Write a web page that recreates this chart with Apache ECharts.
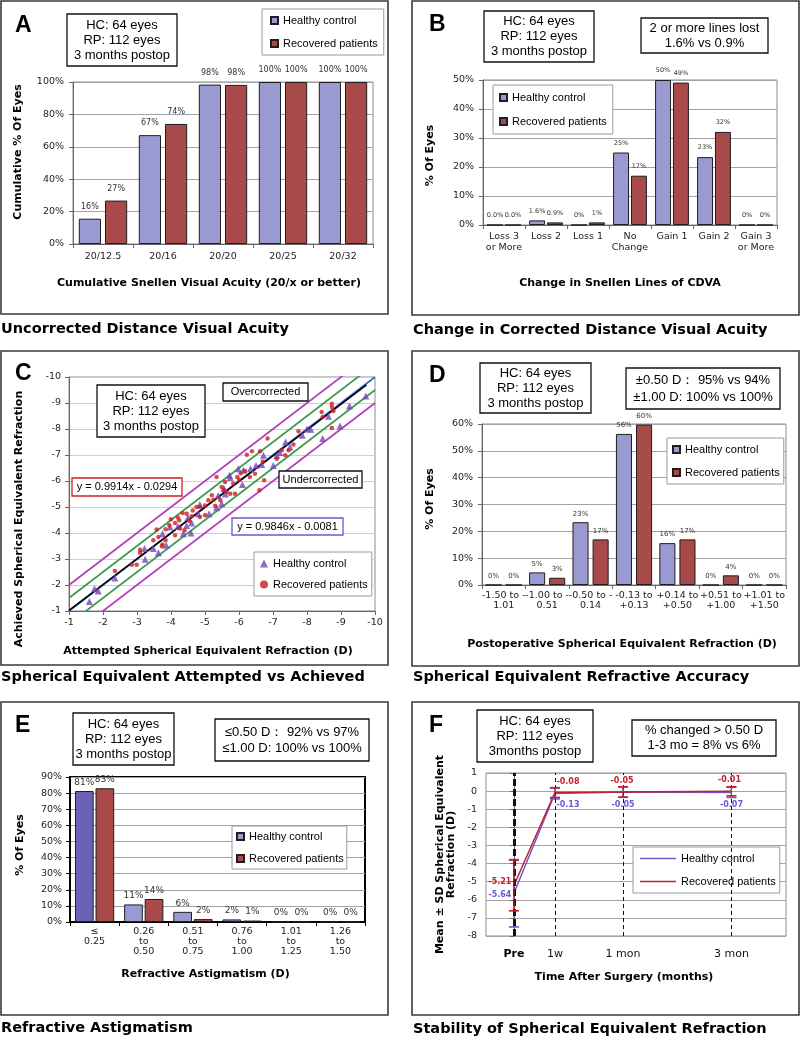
<!DOCTYPE html>
<html><head><meta charset="utf-8">
<script src="https://cdn.jsdelivr.net/npm/echarts@6/dist/echarts.min.js"></script>
<style>html,body{margin:0;padding:0;background:#fff;width:800px;height:1039px;overflow:hidden;position:relative}</style>
</head><body>
<script>
// ---------------- DATA ----------------
const seriesNames = ['Healthy control', 'Recovered patients'];

// A: Uncorrected distance visual acuity (cumulative %)
const catsA = ['20/12.5', '20/16', '20/20', '20/25', '20/32'];
const hcA = [15.6, 67.2, 98.4, 100, 100];
const rpA = [26.8, 74.1, 98.2, 100, 100];

// B: Change in CDVA (%)
const catsB = ['Loss 3\nor More', 'Loss 2', 'Loss 1', 'No\nChange', 'Gain 1', 'Gain 2', 'Gain 3\nor More'];
const hcB = [0, 1.6, 0, 25.0, 50.0, 23.4, 0];
const rpB = [0, 0.9, 0.9, 17.0, 49.1, 32.1, 0];
const hcBLabels = ['0.0%', '1.6%', '0%', '25%', '50%', '23%', '0%'];
const rpBLabels = ['0.0%', '0.9%', '1%', '17%', '49%', '32%', '0%'];

// C: Attempted vs achieved SE (D): [attempted, achieved]
const hcC = [[-1.60,-1.37],[-1.75,-1.86],[-1.86,-1.77],[-2.35,-2.27],[-3.24,-2.99],[-3.22,-3.40],[-3.48,-3.40],[-3.63,-3.24],[-3.75,-3.97],[-3.86,-3.53],[-3.97,-4.23],[-4.36,-3.97],[-4.46,-4.29],[-4.61,-4.38],[-4.59,-4.00],[-4.80,-4.74],[-4.85,-5.10],[-5.12,-4.74],[-5.34,-4.97],[-5.39,-5.44],[-5.49,-5.13],[-5.56,-5.71],[-5.72,-6.22],[-5.74,-6.13],[-5.98,-6.47],[-6.13,-6.41],[-6.10,-5.87],[-6.34,-6.47],[-6.72,-6.99],[-6.67,-6.63],[-7.01,-6.60],[-7.11,-6.99],[-7.37,-7.50],[-7.50,-7.31],[-7.86,-7.76],[-8.11,-7.99],[-8.46,-7.63],[-8.63,-8.49],[-8.97,-8.12],[-9.25,-8.88],[-9.73,-9.27],[-4.20,-4.25],[-4.50,-4.60],[-5.60,-5.50],[-6.50,-6.60],[-7.20,-7.10],[-8.00,-8.00]];
const rpC = [[-2.35,-2.54],[-2.85,-2.78],[-2.99,-2.78],[-3.09,-3.36],[-3.09,-3.24],[-3.48,-3.72],[-3.58,-4.13],[-3.63,-3.85],[-3.75,-3.56],[-3.84,-4.14],[-3.84,-3.72],[-3.73,-3.49],[-4.00,-4.53],[-4.12,-4.38],[-4.12,-3.91],[-4.24,-4.49],[-4.27,-4.17],[-4.34,-4.77],[-4.46,-4.74],[-4.61,-4.64],[-4.64,-4.87],[-4.75,-5.00],[-4.85,-5.00],[-4.85,-4.62],[-5.00,-4.68],[-5.00,-5.06],[-5.10,-5.26],[-5.25,-5.28],[-5.45,-5.26],[-5.49,-5.77],[-5.64,-5.58],[-5.74,-5.51],[-5.88,-5.51],[-5.34,-6.15],[-5.59,-5.96],[-5.83,-5.90],[-6.00,-6.05],[-6.18,-6.38],[-6.32,-6.15],[-6.47,-6.28],[-6.23,-7.01],[-6.38,-7.14],[-6.62,-7.14],[-6.60,-5.64],[-6.74,-6.03],[-6.84,-7.63],[-7.11,-6.86],[-7.26,-7.18],[-7.36,-6.99],[-7.46,-7.18],[-7.60,-7.40],[-7.75,-7.91],[-8.43,-8.65],[-8.46,-8.46],[-8.73,-8.97],[-8.73,-8.85],[-8.73,-8.04],[-8.78,-8.69],[-4.40,-4.10],[-4.55,-4.45],[-3.95,-4.30],[-5.20,-5.45],[-5.55,-5.65],[-6.70,-6.75],[-5.30,-5.05],[-4.20,-4.60],[-6.05,-6.30],[-5.95,-6.15]];
const boundOffsets = [-1, -0.5, 0.5, 1];
const trendRP = { slope: 0.9914, intercept: -0.0294, from: -1, to: -9.75 };

// D: Postoperative SE accuracy (%)
const catsD = ['-1.50 to -\n1.01', '-1.00 to -\n0.51', '-0.50 to -\n0.14', '-0.13 to\n+0.13', '+0.14 to\n+0.50', '+0.51 to\n+1.00', '+1.01 to\n+1.50'];
const hcD = [0, 4.7, 23.4, 56.3, 15.6, 0, 0];
const rpD = [0, 2.7, 17.0, 59.8, 17.0, 3.6, 0];

// E: Refractive astigmatism (%)
const catsE = ['\u2264\n0.25', '0.26\nto\n0.50', '0.51\nto\n0.75', '0.76\nto\n1.00', '1.01\nto\n1.25', '1.26\nto\n1.50'];
const hcE = [81.3, 10.9, 6.3, 1.6, 0, 0];
const rpE = [83.0, 14.3, 1.8, 0.9, 0, 0];

// F: Stability of SE (mean +/- SD, D)
const timeNames = ['Pre', '1w', '1 mon', '3 mon'];
const timeVals = [0, 1, 2.66, 5.3];
const hcF = [-5.64, -0.13, -0.05, -0.07];
const rpF = [-5.21, -0.08, -0.05, -0.01];
const hcFsd = [1.86, 0.30, 0.28, 0.28];
const rpFsd = [1.40, 0.27, 0.29, 0.25];

// ---------------- STYLE HELPERS ----------------
const FA = 'DejaVu Sans', FT = 'Liberation Sans';
const HC_COL = '#9a9ad2', RP_COL = '#a84a4a', HC_DARK = '#6a62b6';
const GRIDC = '#a3a3a3';

function initChart(x, y, w, h) {
  const d = document.createElement('div');
  d.style.cssText = 'position:absolute;left:' + x + 'px;top:' + y + 'px;width:' + w + 'px;height:' + h + 'px';
  document.body.appendChild(d);
  return echarts.init(d, null, { renderer: 'canvas' });
}

function frame(ox, oy, p) {
  const g = [];
  g.push({ type: 'rect', silent: true, z: 0, shape: { x: p.frame[0] - ox, y: p.frame[1] - oy, width: p.frame[2] - p.frame[0], height: p.frame[3] - p.frame[1] }, style: { fill: null, stroke: '#3a3a3a', lineWidth: 1.6 } });
  g.push({ type: 'text', z: 100, x: p.letter[1] - ox, y: p.letter[2] - oy, style: { text: p.letter[0], font: 'bold 23px "Liberation Sans"', fill: '#000', verticalAlign: 'middle' } });
  g.push({ type: 'text', z: 100, x: p.caption[1] - ox, y: p.caption[2] - oy, style: { text: p.caption[0], font: 'bold 14.5px "DejaVu Sans"', fill: '#000', verticalAlign: 'middle' } });
  (p.boxes || []).forEach(function (b) {
    g.push({ type: 'rect', z: 100, shape: { x: b.r[0] - ox, y: b.r[1] - oy, width: b.r[2] - b.r[0], height: b.r[3] - b.r[1] }, style: { fill: '#fff', stroke: b.stroke || '#111', lineWidth: b.lw || 1.3 } });
    g.push({ type: 'text', z: 101, x: (b.r[0] + b.r[2]) / 2 - ox, y: (b.r[1] + b.r[3]) / 2 - oy, style: { text: b.text, align: 'center', verticalAlign: 'middle', font: (b.size || 13) + 'px "Liberation Sans"', lineHeight: b.lh || 15, fill: '#000' } });
  });
  return g;
}

function legendOpt(left, top, padding, extra) {
  return Object.assign({
    orient: 'vertical', left: left, top: top, padding: padding,
    itemWidth: 7, itemHeight: 7, itemGap: 12, icon: 'rect',
    backgroundColor: '#fff', borderColor: '#9a9a9a', borderWidth: 1,
    textStyle: { fontFamily: FT, fontSize: 11, color: '#000' },
    data: seriesNames.slice()
  }, extra || {});
}

function nameStyle(pad) {
  return { fontFamily: FA, fontWeight: 'bold', fontSize: 11, color: '#000', padding: pad || 0 };
}

function catAxis(data, o) {
  return {
    type: 'category', data: data,
    axisLabel: { interval: 0, fontFamily: FA, fontSize: 9.5, color: '#222', margin: o.margin, lineHeight: o.lh || 10.5 },
    axisTick: { show: true, length: 4, lineStyle: { color: o.lineColor || '#666' } },
    axisLine: { show: true, lineStyle: { color: o.lineColor || '#666', width: o.lineWidth || 1 } },
    name: o.name, nameLocation: 'middle', nameGap: o.nameGap, nameTextStyle: nameStyle(o.namePad)
  };
}

function valAxis(min, max, interval, o) {
  return {
    type: 'value', min: min, max: max, interval: interval, inverse: !!o.inverse,
    axisLabel: { formatter: o.fmt, fontFamily: FA, fontSize: 9.5, color: '#222', margin: o.margin || 9 },
    axisLine: { show: true, lineStyle: { color: o.lineColor || '#666', width: o.lineWidth || 1 } },
    axisTick: { show: true, length: 4, lineStyle: { color: o.lineColor || '#666' } },
    splitLine: { show: o.split !== false, lineStyle: { color: o.splitColor || GRIDC, width: 1 } },
    name: o.name, nameLocation: 'middle', nameRotate: o.rotate === undefined ? 90 : o.rotate, nameGap: o.nameGap, nameTextStyle: nameStyle(o.namePad)
  };
}

function bar(name, data, color, o) {
  return {
    type: 'bar', name: name, data: data, barWidth: o.bw, barGap: o.gap,
    itemStyle: { color: color, borderColor: '#1e1e1e', borderWidth: 1 },
    label: { show: true, position: 'top', distance: o.ld, fontFamily: FA, fontSize: o.lf, color: '#333',
      formatter: o.labels ? function (p) { return o.labels[p.dataIndex]; } : function (p) { return Math.round(p.value) + '%'; } }
  };
}

const pct = '{value}%';
const gridBase = { show: true, borderColor: '#8c8c8c', borderWidth: 1, backgroundColor: 'transparent', outerBoundsMode: 'none', containLabel: false };

// ---------------- PANEL A ----------------
(function () {
  const ox = 0, oy = 0;
  const c = initChart(ox, oy, 400, 340);
  c.setOption({
    animation: false,
    textStyle: { fontFamily: FA },
    grid: Object.assign({}, gridBase, { left: 73 - ox, top: 82 - oy, width: 300, height: 162 }),
    legend: legendOpt(262 - ox, 9 - oy, [6, 6, 6, 8]),
    xAxis: catAxis(catsA, { margin: 7, name: 'Cumulative Snellen Visual Acuity (20/x or better)', nameGap: 34, namePad: [0, 28, 0, 0] }),
    yAxis: valAxis(0, 100, 20, { fmt: pct, name: 'Cumulative % Of Eyes', nameGap: 49, namePad: [0, 0, 0, 22] }),
    series: [
      bar(seriesNames[0], hcA, HC_COL, { bw: '37%', gap: '18%', ld: 8, lf: 8 }),
      bar(seriesNames[1], rpA, RP_COL, { bw: '37%', gap: '18%', ld: 8, lf: 8 })
    ],
    graphic: frame(ox, oy, {
      frame: [1, 1, 388, 314], letter: ['A', 15, 26], caption: ['Uncorrected Distance Visual Acuity', 1, 329],
      boxes: [{ r: [67, 14, 177, 66], text: 'HC: 64 eyes\nRP: 112 eyes\n3 months postop' }]
    })
  });
})();

// ---------------- PANEL B ----------------
(function () {
  const ox = 400, oy = 0;
  const c = initChart(ox, oy, 400, 340);
  c.setOption({
    animation: false,
    textStyle: { fontFamily: FA },
    grid: Object.assign({}, gridBase, { left: 483 - ox, top: 80 - oy, width: 294, height: 145 }),
    legend: legendOpt(493 - ox, 85 - oy, [7, 6, 7, 6], { itemGap: 13 }),
    xAxis: catAxis(catsB, { margin: 6, lh: 11, name: 'Change in Snellen Lines of CDVA', nameGap: 53, namePad: [0, 20, 0, 0] }),
    yAxis: valAxis(0, 50, 10, { fmt: pct, name: '% Of Eyes', nameGap: 47, namePad: [0, 6, 0, 0] }),
    series: [
      bar(seriesNames[0], hcB, HC_COL, { bw: '38%', gap: '12%', ld: 6, lf: 6.5, labels: hcBLabels }),
      bar(seriesNames[1], rpB, RP_COL, { bw: '38%', gap: '12%', ld: 6, lf: 6.5, labels: rpBLabels })
    ],
    graphic: frame(ox, oy, {
      frame: [412, 1, 799, 315], letter: ['B', 429, 25], caption: ['Change in Corrected Distance Visual Acuity', 413, 330],
      boxes: [
        { r: [484, 11, 594, 62], text: 'HC: 64 eyes\nRP: 112 eyes\n3 months postop' },
        { r: [641, 18, 768, 53], text: '2 or more lines lost\n1.6% vs 0.9%' }
      ]
    })
  });
})();

// ---------------- PANEL C ----------------
(function () {
  const ox = 0, oy = 340;
  const c = initChart(ox, oy, 400, 350);
  const boundColors = { '-1': '#b440bc', '-0.5': '#3f9a52', '0.5': '#3f9a52', '1': '#b440bc' };
  const boundSeries = boundOffsets.map(function (off) {
    return {
      type: 'line', name: 'Bound ' + off, data: [[-1, -1 + off], [-10, -10 + off]], symbol: 'none', clip: true, silent: true, z: 1,
      lineStyle: { color: boundColors[String(off)], width: 1.8 }
    };
  });
  c.setOption({
    animation: false,
    textStyle: { fontFamily: FA },
    grid: Object.assign({}, gridBase, { left: 69 - ox, top: 377 - oy, width: 306, height: 234 }),
    legend: legendOpt(254 - ox, 552 - oy, [6, 4, 6, 6], {
      itemGap: 10, itemWidth: 8, itemHeight: 8,
      data: [{ name: seriesNames[0], icon: 'triangle' }, { name: seriesNames[1], icon: 'circle' }]
    }),
    xAxis: valAxis(-10, -1, 1, { inverse: true, split: false, rotate: 0, margin: 7, name: 'Attempted Spherical Equivalent Refraction (D)', nameGap: 35, namePad: [0, 28, 0, 0] }),
    yAxis: valAxis(-10, -1, 1, { inverse: true, splitColor: '#cfcfcf', margin: 8, name: 'Achieved Spherical Equivalent Refraction', nameGap: 44, namePad: [0, 50, 0, 0] }),
    series: boundSeries.concat([
      { type: 'line', name: 'Attempted = Achieved', data: [[-1, -1], [-10, -10]], symbol: 'none', silent: true, z: 1, lineStyle: { color: '#3462c8', width: 1.6 } },
      { type: 'line', name: 'Trend', data: [[trendRP.from, trendRP.slope * trendRP.from + trendRP.intercept], [trendRP.to, trendRP.slope * trendRP.to + trendRP.intercept]], symbol: 'none', silent: true, z: 3, lineStyle: { color: '#000', width: 1.6 } },
      { type: 'scatter', name: seriesNames[0], data: hcC, symbol: 'triangle', symbolSize: 7, z: 4, itemStyle: { color: '#7446b6' } },
      { type: 'scatter', name: seriesNames[1], data: rpC, symbol: 'circle', symbolSize: 4.5, z: 5, itemStyle: { color: '#cc1f1f' } }
    ]),
    graphic: frame(ox, oy, {
      frame: [1, 351, 388, 665], letter: ['C', 15, 374], caption: ['Spherical Equivalent Attempted vs Achieved', 1, 677],
      boxes: [
        { r: [97, 385, 205, 437], text: 'HC: 64 eyes\nRP: 112 eyes\n3 months postop' },
        { r: [223, 383, 308, 401], text: 'Overcorrected', size: 11 },
        { r: [279, 471, 362, 488], text: 'Undercorrected', size: 11 },
        { r: [72, 478, 182, 496], text: 'y = 0.9914x - 0.0294', size: 11, stroke: '#cc2222' },
        { r: [232, 518, 343, 535], text: 'y = 0.9846x - 0.0081', size: 11, stroke: '#6a5acd' }
      ]
    })
  });
})();

// ---------------- PANEL D ----------------
(function () {
  const ox = 400, oy = 340;
  const c = initChart(ox, oy, 400, 350);
  c.setOption({
    animation: false,
    textStyle: { fontFamily: FA },
    grid: Object.assign({}, gridBase, { left: 482 - ox, top: 424 - oy, width: 304, height: 161 }),
    legend: legendOpt(667 - ox, 438 - oy, [6, 4, 6, 5], { itemGap: 12 }),
    xAxis: catAxis(catsD, { margin: 5, lh: 10.5, name: 'Postoperative Spherical Equivalent Refraction (D)', nameGap: 54, namePad: [0, 24, 0, 0] }),
    yAxis: valAxis(0, 60, 10, { fmt: pct, name: '% Of Eyes', nameGap: 46, namePad: [0, 0, 0, 11] }),
    series: [
      bar(seriesNames[0], hcD, HC_COL, { bw: '37%', gap: '25%', ld: 5, lf: 7 }),
      bar(seriesNames[1], rpD, RP_COL, { bw: '37%', gap: '25%', ld: 5, lf: 7 })
    ],
    graphic: frame(ox, oy, {
      frame: [412, 351, 799, 666], letter: ['D', 429, 376], caption: ['Spherical Equivalent Refractive Accuracy', 413, 677],
      boxes: [
        { r: [480, 363, 591, 413], text: 'HC: 64 eyes\nRP: 112 eyes\n3 months postop' },
        { r: [626, 368, 780, 409], text: '\u00b10.50 D\uff1a 95% vs 94%\n\u00b11.00 D: 100% vs 100%', lh: 17 }
      ]
    })
  });
})();

// ---------------- PANEL E ----------------
(function () {
  const ox = 0, oy = 680;
  const c = initChart(ox, oy, 400, 359);
  const hcEData = hcE.map(function (v, i) { return i === 0 ? { value: v, itemStyle: { color: HC_DARK } } : v; });
  c.setOption({
    animation: false,
    textStyle: { fontFamily: FA },
    grid: Object.assign({}, gridBase, { left: 70 - ox, top: 777 - oy, width: 295, height: 145, borderColor: '#000', borderWidth: 2 }),
    legend: legendOpt(232 - ox, 826 - oy, [5, 3, 5, 4], { itemGap: 11 }),
    xAxis: catAxis(catsE, { margin: 5, lh: 10, lineColor: '#000', lineWidth: 2, name: 'Refractive Astigmatism (D)', nameGap: 47, namePad: [0, 24, 0, 0] }),
    yAxis: valAxis(0, 90, 10, { fmt: pct, margin: 8, lineColor: '#000', lineWidth: 2, name: '% Of Eyes', nameGap: 44, namePad: [0, 0, 0, 9] }),
    series: [
      bar(seriesNames[0], hcEData, HC_COL, { bw: '38%', gap: '10%', ld: 4, lf: 9 }),
      bar(seriesNames[1], rpE, RP_COL, { bw: '38%', gap: '10%', ld: 4, lf: 9 })
    ],
    graphic: frame(ox, oy, {
      frame: [1, 702, 388, 1015], letter: ['E', 15, 726], caption: ['Refractive Astigmatism', 1, 1028],
      boxes: [
        { r: [73, 713, 174, 765], text: 'HC: 64 eyes\nRP: 112 eyes\n3 months postop' },
        { r: [215, 719, 369, 761], text: '\u22640.50 D\uff1a 92% vs 97%\n\u22641.00 D: 100% vs 100%', lh: 16 }
      ]
    })
  });
})();

// ---------------- PANEL F ----------------
(function () {
  const ox = 400, oy = 680;
  const c = initChart(ox, oy, 400, 359);
  const HCF_COL = '#6c5ad0', RPF_COL = '#c4202c';
  const hcOff = [[-14, 2], [13, 11], [0, 13], [0, 13]];
  const rpOff = [[-14, -4], [13, -11], [-1, -11], [-2, -11]];
  function errRender(color, offs) {
    return function (params, api) {
      const x = api.value(0), m = api.value(1), sd = api.value(2);
      const p = api.coord([x, m]);
      const t = api.coord([x, m + sd]);
      const b = api.coord([x, m - sd]);
      const cw = 5;
      const o = offs[params.dataIndex];
      return {
        type: 'group', children: [
          { type: 'line', shape: { x1: t[0], y1: t[1], x2: b[0], y2: b[1] }, style: { stroke: color, lineWidth: 1.2 } },
          { type: 'line', shape: { x1: t[0] - cw, y1: t[1], x2: t[0] + cw, y2: t[1] }, style: { stroke: color, lineWidth: 1.6 } },
          { type: 'line', shape: { x1: b[0] - cw, y1: b[1], x2: b[0] + cw, y2: b[1] }, style: { stroke: color, lineWidth: 1.6 } },
          { type: 'text', x: p[0] + o[0], y: p[1] + o[1], style: { text: m.toFixed(2), fill: color, font: 'bold 8px "DejaVu Sans"', align: 'center', verticalAlign: 'middle' } }
        ]
      };
    };
  }
  const zip = function (a, b, s) { return a.map(function (v, i) { return s ? [v, b[i], s[i]] : [v, b[i]]; }); };
  c.setOption({
    animation: false,
    textStyle: { fontFamily: FA },
    grid: Object.assign({}, gridBase, { left: 486 - ox, top: 773 - oy, width: 300, height: 163 }),
    legend: legendOpt(633 - ox, 847 - oy, [6, 4, 6, 7], {
      itemWidth: 36, itemHeight: 1.5, itemGap: 12,
      data: [
        { name: seriesNames[0], icon: 'rect', itemStyle: { color: HCF_COL, borderWidth: 0 } },
        { name: seriesNames[1], icon: 'rect', itemStyle: { color: RPF_COL, borderWidth: 0 } }
      ]
    }),
    xAxis: {
      type: 'value', min: -0.68, max: 6.63,
      axisLine: { show: false }, axisTick: { show: false }, splitLine: { show: false },
      axisLabel: {
        customValues: timeVals, margin: 13, fontFamily: FA, fontSize: 11, color: '#111',
        formatter: function (v) { const i = timeVals.indexOf(v); return i === 0 ? '{b|' + timeNames[i] + '}' : (i > 0 ? timeNames[i] : ''); },
        rich: { b: { fontFamily: FA, fontSize: 11, fontWeight: 'bold', color: '#000' } }
      },
      name: 'Time After Surgery (months)', nameLocation: 'middle', nameGap: 36, nameTextStyle: nameStyle([0, 24, 0, 0])
    },
    yAxis: valAxis(-8, 1, 1, { margin: 9, split: true, name: 'Mean \u00b1 SD Spherical Equivalent\nRefraction (D)', nameGap: 20, namePad: [0, 0, 0, 0] }),
    series: [
      { type: 'line', name: seriesNames[0], data: zip(timeVals, hcF), symbol: 'none', z: 3, lineStyle: { color: HCF_COL, width: 1.5 }, itemStyle: { color: HCF_COL },
        markLine: { silent: true, symbol: 'none', label: { show: false }, data: timeVals.map(function (v, i) { return { xAxis: v, lineStyle: { color: '#111', width: i === 0 ? 3 : 1, type: i === 0 ? [7, 3] : [4, 3] } }; }) } },
      { type: 'line', name: seriesNames[1], data: zip(timeVals, rpF), symbol: 'none', z: 3, lineStyle: { color: RPF_COL, width: 1.5 }, itemStyle: { color: RPF_COL } },
      { type: 'custom', name: seriesNames[0], data: zip(timeVals, hcF, hcFsd), renderItem: errRender(HCF_COL, hcOff), z: 4 },
      { type: 'custom', name: seriesNames[1], data: zip(timeVals, rpF, rpFsd), renderItem: errRender(RPF_COL, rpOff), z: 5 }
    ],
    graphic: frame(ox, oy, {
      frame: [412, 702, 799, 1015], letter: ['F', 429, 726], caption: ['Stability of Spherical Equivalent Refraction', 413, 1029],
      boxes: [
        { r: [477, 710, 593, 762], text: 'HC: 64 eyes\nRP: 112 eyes\n3months postop' },
        { r: [632, 720, 776, 756], text: '% changed > 0.50 D\n1-3 mo = 8% vs 6%' }
      ]
    })
  });
})();
</script>
</body></html>
